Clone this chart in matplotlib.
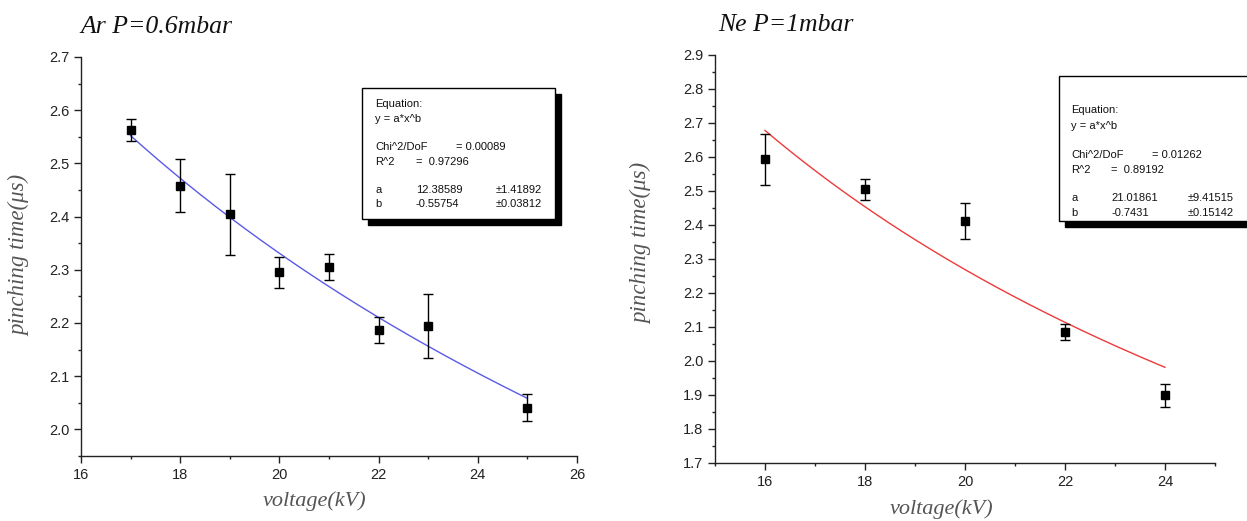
import numpy as np
import matplotlib
matplotlib.use("Agg")
import matplotlib.pyplot as plt
from matplotlib.patches import Rectangle
from matplotlib.ticker import MultipleLocator

# Ar, P=0.6 mbar
ar_v = [17, 18, 19, 20, 21, 22, 23, 25]
ar_t = [2.563, 2.458, 2.404, 2.295, 2.305, 2.187, 2.194, 2.041]
ar_err = [0.021, 0.050, 0.076, 0.029, 0.025, 0.024, 0.060, 0.026]
ar_a, ar_b = 12.38589, -0.55754

# Ne, P=1 mbar
ne_v = [16, 18, 20, 22, 24]
ne_t = [2.594, 2.505, 2.413, 2.086, 1.899]
ne_err = [0.075, 0.030, 0.053, 0.024, 0.033]
ne_a, ne_b = 21.01861, -0.7431

box_lines = ["Equation:", "y = a*x^b", "", "Chi^2/DoF", "R^2", "", "a", "b"]
ar_stats = ["= 0.00089", "=  0.97296"]
ar_par = [("12.38589", "\u00b11.41892"), ("-0.55754", "\u00b10.03812")]
ne_stats = ["= 0.01262", "=  0.89192"]
ne_par = [("21.01861", "\u00b19.41515"), ("-0.7431", "\u00b10.15142")]

W, H = 1247, 521
fig = plt.figure(figsize=(W / 100, H / 100), dpi=100)

serif = dict(family="Liberation Serif", style="italic")
sans = "Liberation Sans"


def px(x, y):
    return x / W, 1 - y / H


def setup(ax, xlim, ylim, xmaj):
    ax.set_xlim(*xlim)
    ax.set_ylim(*ylim)
    ax.spines["top"].set_visible(False)
    ax.spines["right"].set_visible(False)
    for s in ("left", "bottom"):
        ax.spines[s].set_linewidth(1.0)
        ax.spines[s].set_color("#222222")
    ax.xaxis.set_major_locator(MultipleLocator(xmaj))
    ax.xaxis.set_minor_locator(MultipleLocator(1))
    ax.yaxis.set_major_locator(MultipleLocator(0.1))
    ax.yaxis.set_minor_locator(MultipleLocator(0.05))
    ax.tick_params(which="major", direction="out", length=5, width=1,
                   labelsize=10.5, colors="#222222")
    ax.tick_params(which="minor", direction="out", length=2.5, width=1,
                   colors="#222222")
    for lab in ax.get_xticklabels() + ax.get_yticklabels():
        lab.set_family(sans)
    ax.yaxis.set_major_formatter(plt.FuncFormatter(lambda v, p: f"{v:.1f}"))


def eq_box(x0, y0, x1, y1, xs, ys, stats, par):
    sh = 6
    fig.patches.append(Rectangle(px(x0 + sh, y1 + sh), (x1 - x0) / W, (y1 - y0) / H,
                                 transform=fig.transFigure, facecolor="black",
                                 edgecolor="black", zorder=5))
    fig.patches.append(Rectangle(px(x0, y1), (x1 - x0) / W, (y1 - y0) / H,
                                 transform=fig.transFigure, facecolor="white",
                                 edgecolor="black", linewidth=1.0, zorder=6))
    kw = dict(fontsize=8, family=sans, va="center", ha="left", zorder=7,
              color="#111111")
    for lab, y in zip(box_lines, ys):
        if lab:
            fig.text(*px(xs[0], y), lab, **kw)
    fig.text(*px(xs[2], ys[3]), stats[0], **kw)
    fig.text(*px(xs[1], ys[4]), stats[1], **kw)
    for (v, e), y in zip(par, [ys[6], ys[7]]):
        fig.text(*px(xs[1], y), v, **kw)
        fig.text(*px(xs[3], y), e, **kw)


# left panel
ax1 = fig.add_axes([81 / W, 1 - 456 / H, 496 / W, 399 / H])
setup(ax1, (16, 26), (1.95, 2.7), 2)
xf = np.linspace(min(ar_v), max(ar_v), 200)
ax1.plot(xf, ar_a * xf ** ar_b, color="#5a5ae8", lw=1.0, zorder=2)
ax1.errorbar(ar_v, ar_t, yerr=ar_err, fmt="s", color="black", ms=6,
             ecolor="black", elinewidth=1.0, capsize=3.5, capthick=1.0, zorder=3)

# right panel
ax2 = fig.add_axes([715 / W, 1 - 463 / H, 500 / W, 408 / H])
setup(ax2, (15, 25), (1.7, 2.9), 2)
xf = np.linspace(min(ne_v), max(ne_v), 200)
ax2.plot(xf, ne_a * xf ** ne_b, color="#ee3a3a", lw=1.0, zorder=2)
ax2.errorbar(ne_v, ne_t, yerr=ne_err, fmt="s", color="black", ms=6,
             ecolor="black", elinewidth=1.0, capsize=3.5, capthick=1.0, zorder=3)

# titles and axis labels
fig.text(*px(80, 27), "Ar P=0.6mbar", fontsize=18.5, ha="left", va="center",
         color="#111111", **serif)
fig.text(*px(718, 25), "Ne P=1mbar", fontsize=18.5, ha="left", va="center",
         color="#111111", **serif)
lab_col = "#555555"
fig.text(*px(20, 255), "pinching time(\u03bcs)", rotation=90, fontsize=16.5,
         ha="center", va="center", color=lab_col, **serif)
fig.text(*px(642, 243), "pinching time(\u03bcs)", rotation=90, fontsize=16.5,
         ha="center", va="center", color=lab_col, **serif)
fig.text(*px(314, 501), "voltage(kV)", fontsize=16, ha="center", va="center",
         color=lab_col, **serif)
fig.text(*px(942, 509), "voltage(kV)", fontsize=16, ha="center", va="center",
         color=lab_col, **serif)

# fit result boxes
eq_box(362, 88, 555, 219, [375, 416, 456, 496],
       [104, 119, 133, 147, 162, 176, 190, 204], ar_stats, ar_par)
eq_box(1059, 76, 1262, 221, [1071, 1111, 1152, 1188],
       [110, 126, 140, 155, 170, 184, 198, 213], ne_stats, ne_par)

fig.savefig("out.png", dpi=100)
